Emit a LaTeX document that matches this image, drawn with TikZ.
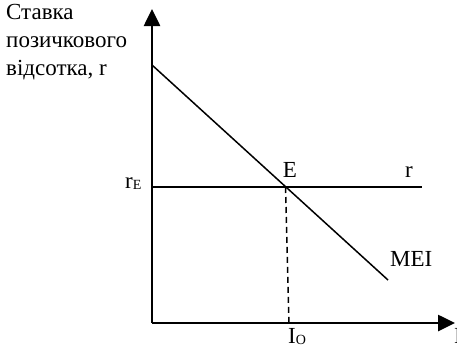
\documentclass[tikz,border=0pt]{standalone}
\usepackage{fontspec}
\setmainfont{Liberation Serif}
\usetikzlibrary{arrows.meta}
\newcommand{\subtxt}[1]{\raisebox{-1.5pt}{\fontsize{14}{15}\selectfont #1}}
\begin{document}
\begin{tikzpicture}[x=1pt,y=-1pt,
  axis/.style={line width=2.6pt,-{Triangle[length=17pt,width=16pt]}},
  curve/.style={line width=1.5pt},
  lbl/.style={font=\fontsize{23}{28}\selectfont,inner sep=0pt}]
\useasboundingbox (0,0) rectangle (457,348);
\coordinate (O) at (152,323);
\coordinate (ytop) at (152,9);
\coordinate (xend) at (455,323);
\draw[axis] (O) -- (ytop);
\draw[axis] (O) -- (xend);
\coordinate (m1) at (152,65);
\coordinate (m2) at (388,280);
\draw[curve] (m1) -- (m2);
\coordinate (r1) at (152,187);
\coordinate (r2) at (422,187);
\draw[curve] (r1) -- (r2);
\coordinate (E) at (285.5,187);
\coordinate (Ib) at (289,323);
\draw[curve,dash pattern=on 6pt off 4pt] (E) -- (Ib);
\node[lbl,anchor=north west,align=left] (ylab) at (6,4) {Ставка\\позичкового\\відсотка, r};
\node[lbl,anchor=base west] (rE) at (125,188) {r\subtxt{E}};
\node[lbl,anchor=base] (Elab) at (290,177) {E};
\node[lbl,anchor=base] (rlab) at (409,177) {r};
\node[lbl,anchor=base west] (mei) at (390,266) {MEI};
\node[lbl,anchor=base west] (Io) at (288,343) {I\subtxt{O}};
\node[lbl,anchor=base west] (Ilab) at (454,343) {I};
\end{tikzpicture}
\end{document}
